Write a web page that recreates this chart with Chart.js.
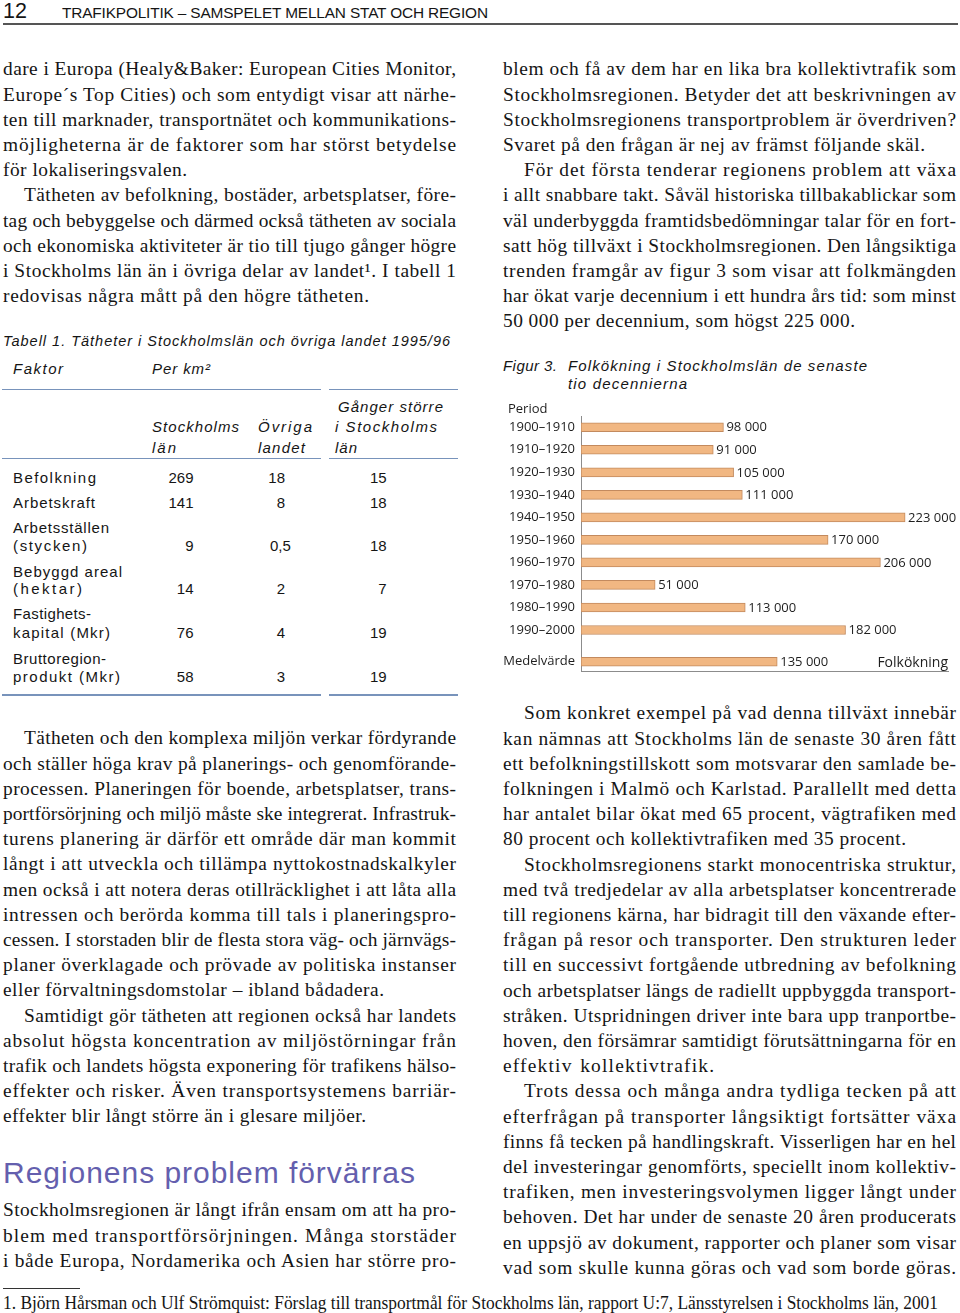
<!DOCTYPE html>
<html><head><meta charset="utf-8">
<script src="https://cdn.jsdelivr.net/npm/chart.js@4.4.1/dist/chart.umd.min.js"></script>
<style>
html,body{margin:0;padding:0;background:#fff;}
body{width:960px;height:1313px;position:relative;overflow:hidden;}
.t{position:absolute;white-space:nowrap;line-height:1;color:#151515;}
.rule{position:absolute;}
#fig{position:absolute;left:500px;top:395px;}
</style></head>
<body>
<div class="rule" style="left:3px;top:23px;width:955px;height:2px;background:#555;"></div>
<div class="rule" style="left:2px;top:388.5px;width:319px;height:1.5px;background:#7893bb;"></div>
<div class="rule" style="left:329px;top:388.5px;width:129px;height:1.5px;background:#7893bb;"></div>
<div class="rule" style="left:2px;top:457.5px;width:319px;height:1.5px;background:#7893bb;"></div>
<div class="rule" style="left:329px;top:457.5px;width:129px;height:1.5px;background:#7893bb;"></div>
<div class="rule" style="left:2px;top:694px;width:319px;height:1.5px;background:#7893bb;"></div>
<div class="rule" style="left:329px;top:694px;width:129px;height:1.5px;background:#7893bb;"></div>
<div class="rule" style="left:3px;top:1288px;width:77px;height:1px;background:#333;"></div>
<canvas id="fig" width="460" height="290"></canvas>
<script>
// ---- Chart data (Figur 3) ----
const periods = ['1900–1910','1910–1920','1920–1930','1930–1940','1940–1950','1950–1960','1960–1970','1970–1980','1980–1990','1990–2000'];
const growth = [98000, 91000, 105000, 111000, 223000, 170000, 206000, 51000, 113000, 182000];
const averageLabel = 'Medelvärde';
const averageValue = 135000;
const yTitle = 'Period';
const xTitle = 'Folkökning';

const categories = [...periods, averageLabel];
const values = [...growth, averageValue];
const rows = categories.map((c, i) => i < periods.length ? i : i + 0.41);
const fmt = v => String(v).replace(/\B(?=(\d{3})+(?!\d))/g, ' ');

const labelPlugin = {
  id: 'barLabels',
  afterDatasetsDraw(chart) {
    const {ctx, chartArea} = chart;
    const meta = chart.getDatasetMeta(0);
    ctx.save();
    ctx.fillStyle = '#1e1e1e';
    ctx.font = '13px "Open Sans"';
    ctx.textAlign = 'left';
    ctx.textBaseline = 'middle';
    meta.data.forEach((bar, i) => ctx.fillText(fmt(values[i]), bar.x + 3, bar.y + 0.5));
    ctx.textBaseline = 'alphabetic';
    ctx.fillText(yTitle, chartArea.left - 73, chartArea.top - 3);
    ctx.font = '14px "Open Sans"';
    ctx.textAlign = 'right';
    ctx.fillText(xTitle, chartArea.right, chartArea.bottom - 4);
    ctx.restore();
  }
};

new Chart(document.getElementById('fig'), {
  type: 'bar',
  data: {
    labels: categories,
    datasets: [{
      data: values.map((v, i) => ({x: v, y: rows[i]})),
      backgroundColor: '#f1b782',
      borderColor: '#c38a5e',
      borderWidth: 1,
      borderSkipped: false,
      barThickness: 9
    }]
  },
  options: {
    responsive: false,
    animation: false,
    devicePixelRatio: 1,
    indexAxis: 'y',
    layout: {padding: {left: 2, right: 12, top: 21, bottom: 12}},
    plugins: {legend: {display: false}, tooltip: {enabled: false}},
    scales: {
      x: {
        type: 'linear', min: 0, max: 252500, offset: false,
        grid: {display: false, drawTicks: false},
        border: {display: true, color: '#8c8c8c', width: 1},
        ticks: {display: false},
        afterFit(s) { s.height = 0; }
      },
      y: {
        type: 'linear', reverse: true, bounds: 'data', offset: false, grace: 0,
        min: -0.5, max: rows[rows.length - 1] + 0.42,
        grid: {display: false, drawTicks: false, offset: false},
        border: {display: true, color: '#8c8c8c', width: 1},
        ticks: {autoSkip: false, padding: 6, color: '#1e1e1e', font: {family: 'Open Sans', size: 13},
          callback: (v, i) => categories[i]},
        afterBuildTicks(s) { s.ticks = rows.map(v => ({value: v})); },
        afterFit(s) { s.width = 79; }
      }
    }
  },
  plugins: [labelPlugin]
});

// ---- Page text layout ----
function place(text, o) {
  const d = document.createElement('div');
  d.className = 't';
  d.textContent = text;
  const serif = o.f !== 'sans';
  d.style.fontFamily = serif ? "'Liberation Serif', 'Times New Roman', serif" : "'Liberation Sans', Arial, sans-serif";
  d.style.fontSize = o.size + 'px';
  const lh = o.lh || o.size;
  d.style.lineHeight = lh + 'px';
  if (o.it) d.style.fontStyle = 'italic';
  if (o.color) d.style.color = o.color;
  document.body.appendChild(d);
  const nat = d.getBoundingClientRect().width;
  const n = [...text].length;
  if (o.w) {
    if (o.fit === 'ls') {
      if (n > 1) d.style.letterSpacing = ((o.w - nat) / (n - 1)) + 'px';
    } else if (o.fit === 'sx') {
      d.style.transformOrigin = '0 0';
      d.style.transform = 'scaleX(' + (o.w / nat) + ')';
    } else {
      let ls = n > 1 ? (o.w - nat) / (n - 1) : 0;
      ls = Math.max(-0.4, Math.min(ls, 1.2));
      d.style.letterSpacing = ls + 'px';
      const nat2 = d.getBoundingClientRect().width - ls;
      const sp = (text.match(/ /g) || []).length;
      if (sp) d.style.wordSpacing = ((o.w - nat2) / sp) + 'px';
    }
  }
  let left = o.x;
  if (o.r !== undefined) left = o.r - nat;
  d.style.left = left + 'px';
  const A = serif ? 0.891 : 0.905, D = serif ? 0.216 : 0.212;
  const off = (lh - (A + D) * o.size) / 2 + A * o.size;
  d.style.top = (o.b - off) + 'px';
}
const LH = 25.2;
const BODY = 19.4;
function block(x, r, b0, lines) {
  lines.forEach((ln, i) => {
    let text = Array.isArray(ln) ? ln[0] : ln;
    const end = Array.isArray(ln) ? ln[1] : r;
    let ind = 0;
    if (text[0] === '>') { text = text.slice(1); ind = 21; }
    place(text, {x: x + ind, b: b0 + i * LH, size: BODY, w: end - x - ind});
  });
}

// header
place('12', {f: 'sans', size: 21.5, x: 3, b: 19.5});
place('TRAFIKPOLITIK – SAMSPELET MELLAN STAT OCH REGION', {f: 'sans', size: 15.4, x: 62, b: 18.5, w: 426, fit: 'ls'});

block(3, 456, 75.7, [
  'dare i Europa (Healy&Baker: European Cities Monitor,',
  'Europe´s Top Cities) och som entydigt visar att närhe-',
  'ten till marknader, transportnätet och kommunikations-',
  'möjligheterna är de faktorer som har störst betydelse',
  ['för lokaliseringsvalen.', 187],
  '>Tätheten av befolkning, bostäder, arbetsplatser, före-',
  'tag och bebyggelse och därmed också tätheten av sociala',
  'och ekonomiska aktiviteter är tio till tjugo gånger högre',
  'i Stockholms län än i övriga delar av landet¹. I tabell 1',
  ['redovisas några mått på den högre tätheten.', 369]
]);

// table
place('Tabell 1. Tätheter i Stockholmslän och övriga landet 1995/96', {f: 'sans', it: 1, size: 14.5, x: 3, b: 346.5, w: 447, fit: 'ls'});
const H = (t, x, b, w) => place(t, {f: 'sans', it: 1, size: 15, x, b, w, fit: 'ls'});
H('Faktor', 13, 373.3, 50);
H('Per km²', 152, 373.3, 58);
H('Gånger större', 338, 411.7, 105);
H('Stockholms', 152, 431.7, 87);
H('Övriga', 258, 431.7, 54);
H('i Stockholms', 335, 431.7, 102);
H('län', 152, 453, 24);
H('landet', 258, 453, 47);
H('län', 335, 453, 22);
const R = (t, b, w) => place(t, {f: 'sans', size: 15, x: 13, b, w, fit: 'ls'});
const N = (a, bb, c, b) => {
  place(a, {f: 'sans', size: 15, r: 193.5, b});
  if (bb.indexOf(',') >= 0) place(bb, {f: 'sans', size: 15, x: 270, b});
  else place(bb, {f: 'sans', size: 15, r: 285, b});
  place(c, {f: 'sans', size: 15, r: 386.7, b});
};
R('Befolkning', 482.5, 83); N('269', '18', '15', 482.5);
R('Arbetskraft', 507.5, 82); N('141', '8', '18', 507.5);
R('Arbetsställen', 532.5, 96);
R('(stycken)', 551, 74); N('9', '0,5', '18', 551);
R('Bebyggd areal', 576.5, 109);
R('(hektar)', 594, 69); N('14', '2', '7', 594);
R('Fastighets-', 619, 78);
R('kapital (Mkr)', 638, 97); N('76', '4', '19', 638);
R('Bruttoregion-', 663.5, 93);
R('produkt (Mkr)', 682, 107); N('58', '3', '19', 682);

block(3, 456, 744.7, [
  '>Tätheten och den komplexa miljön verkar fördyrande',
  'och ställer höga krav på planerings- och genomförande-',
  'processen. Planeringen för boende, arbetsplatser, trans-',
  'portförsörjning och miljö måste ske integrerat. Infrastruk-',
  'turens planering är därför ett område där man kommit',
  'långt i att utveckla och tillämpa nyttokostnadskalkyler',
  'men också i att notera deras otillräcklighet i att låta alla',
  'intressen och berörda komma till tals i planeringspro-',
  'cessen. I storstaden blir de flesta stora väg- och järnvägs-',
  'planer överklagade och prövade av politiska instanser',
  ['eller förvaltningsdomstolar – ibland bådadera.', 384],
  '>Samtidigt gör tätheten att regionen också har landets',
  'absolut högsta koncentration av miljöstörningar från',
  'trafik och landets högsta exponering för trafikens hälso-',
  'effekter och risker. Även transportsystemens barriär-',
  ['effekter blir långt större än i glesare miljöer.', 366]
]);

place('Regionens problem förvärras', {f: 'sans', size: 30, x: 3, b: 1183.3, w: 412, fit: 'ls', color: '#645fae'});

block(3, 456, 1216.7, [
  'Stockholmsregionen är långt ifrån ensam om att ha pro-',
  'blem med transportförsörjningen. Många storstäder',
  'i både Europa, Nordamerika och Asien har större pro-'
]);

block(503, 956, 75.7, [
  'blem och få av dem har en lika bra kollektivtrafik som',
  'Stockholmsregionen. Betyder det att beskrivningen av',
  'Stockholmsregionens transportproblem är överdriven?',
  ['Svaret på den frågan är nej av främst följande skäl.', 925],
  '>För det första tenderar regionens problem att växa',
  'i allt snabbare takt. Såväl historiska tillbakablickar som',
  'väl underbyggda framtidsbedömningar talar för en fort-',
  'satt hög tillväxt i Stockholmsregionen. Den långsiktiga',
  'trenden framgår av figur 3 som visar att folkmängden',
  'har ökat varje decennium i ett hundra års tid: som minst',
  ['50 000 per decennium, som högst 225 000.', 855]
]);

// figure caption
place('Figur 3.', {f: 'sans', it: 1, size: 15, x: 503, b: 371, w: 54, fit: 'ls'});
place('Folkökning i Stockholmslän de senaste', {f: 'sans', it: 1, size: 15, x: 568, b: 371, w: 299, fit: 'ls'});
place('tio decennierna', {f: 'sans', it: 1, size: 15, x: 568, b: 389, w: 119, fit: 'ls'});

block(503, 956, 719.7, [
  '>Som konkret exempel på vad denna tillväxt innebär',
  'kan nämnas att Stockholms län de senaste 30 åren fått',
  'ett befolkningstillskott som motsvarar den samlade be-',
  'folkningen i Malmö och Karlstad. Parallellt med detta',
  'har antalet bilar ökat med 65 procent, vägtrafiken med',
  ['80 procent och kollektivtrafiken med 35 procent.', 906],
  '>Stockholmsregionens starkt monocentriska struktur,',
  'med två tredjedelar av alla arbetsplatser koncentrerade',
  'till regionens kärna, har bidragit till den växande efter-',
  'frågan på resor och transporter. Den strukturen leder',
  'till en successivt fortgående utbredning av befolkning',
  'och arbetsplatser längs de radiellt uppbyggda transport-',
  'stråken. Utspridningen driver inte bara upp tranportbe-',
  'hoven, den försämrar samtidigt förutsättningarna för en',
  ['effektiv kollektivtrafik.', 714],
  '>Trots dessa och många andra tydliga tecken på att',
  'efterfrågan på transporter långsiktigt fortsätter växa',
  'finns få tecken på handlingskraft. Visserligen har en hel',
  'del investeringar genomförts, speciellt inom kollektiv-',
  'trafiken, men investeringsvolymen ligger långt under',
  'behoven. Det har under de senaste 20 åren producerats',
  'en uppsjö av dokument, rapporter och planer som visar',
  'vad som skulle kunna göras och vad som borde göras.'
]);

place('1. Björn Hårsman och Ulf Strömquist: Förslag till transportmål för Stockholms län, rapport U:7, Länsstyrelsen i Stockholms län, 2001',
  {size: 19, lh: 17, x: 3, b: 1308.5, w: 935, fit: 'sx'});
</script>
</body></html>
